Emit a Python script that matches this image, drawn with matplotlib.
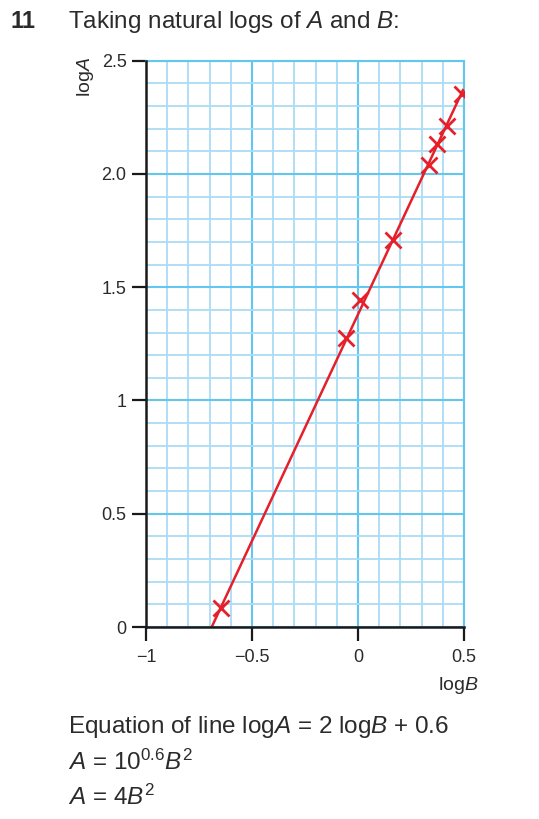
import matplotlib
matplotlib.use('Agg')
import matplotlib.pyplot as plt
from matplotlib.ticker import MultipleLocator

plt.rcParams['font.family'] = ['Liberation Sans', 'DejaVu Sans']
plt.rcParams['mathtext.fontset'] = 'custom'
plt.rcParams['mathtext.rm'] = 'Liberation Sans'
plt.rcParams['mathtext.it'] = 'Liberation Sans:italic'

# data
log_b = [-0.646, -0.057, 0.009, 0.167, 0.333, 0.374, 0.418, 0.492]
log_a = [0.085, 1.275, 1.443, 1.707, 2.038, 2.134, 2.210, 2.354]
line_x = [-0.69, 0.495]
line_y = [0.0, 2.37]
x_ticks = [-1, -0.5, 0, 0.5]
x_labels = ['\u22121', '\u22120.5', '0', '0.5']
y_ticks = [0, 0.5, 1, 1.5, 2, 2.5]
y_labels = ['0', '0.5', '1', '1.5', '2.0', '2.5']

text_col = '#2b2b2b'
red = '#e5202b'
minor_col = '#aadcf4'
major_col = '#62c6ee'

fig = plt.figure(figsize=(5.39, 8.19), dpi=100)
ax = fig.add_axes([146/539, 1 - 627/819, 318/539, 566.3/819])

ax.set_xlim(-1, 0.5)
ax.set_ylim(0, 2.5)
ax.xaxis.set_minor_locator(MultipleLocator(0.1))
ax.yaxis.set_minor_locator(MultipleLocator(0.1))
ax.grid(which='minor', color=minor_col, lw=1.3)
ax.grid(which='major', color=major_col, lw=1.5)
ax.set_axisbelow(True)

ax.set_xticks(x_ticks)
ax.set_xticklabels(x_labels)
ax.set_yticks(y_ticks)
ax.set_yticklabels(y_labels)
ax.tick_params(which='major', direction='out', length=10, width=1.6,
               color='#1a1a1a', labelsize=13, labelcolor=text_col, pad=4)
ax.tick_params(axis='x', pad=6)
ax.tick_params(which='minor', length=0)

for s in ['top', 'right']:
    ax.spines[s].set_color(major_col)
    ax.spines[s].set_linewidth(1.5)
for s in ['left', 'bottom']:
    ax.spines[s].set_color('#1a1a1a')
    ax.spines[s].set_linewidth(1.8)
    ax.spines[s].set_zorder(5)

ax.plot(line_x, line_y, color=red, lw=1.8, zorder=3)
ax.plot(log_b, log_a, 'x', color=red, ms=11, mew=2, zorder=4)

fig.text(10/539, 1 - 22/819, '11', fontsize=17, fontweight='bold', color=text_col, va='center')
fig.text(68/539, 1 - 22/819, r'Taking natural logs of $\mathit{A}$ and $\mathit{B}$:',
         fontsize=17.5, color=text_col, va='center')

fig.text(85/539, 1 - 77/819, r'log$\mathit{A}$', fontsize=14, color=text_col,
         rotation=90, ha='center', va='center')
fig.text(458/539, 1 - 685/819, r'log$\mathit{B}$', fontsize=14, color=text_col,
         ha='center', va='center')

fig.text(68/539, 1 - 727/819, r'Equation of line log$\mathit{A}$ = 2 log$\mathit{B}$ + 0.6',
         fontsize=17.5, color=text_col, va='center')
fig.text(68/539, 1 - 762/819, r'$\mathit{A}$ = 10$^{0.6}$$\mathit{B}^2$',
         fontsize=17.5, color=text_col, va='center')
fig.text(68/539, 1 - 797/819, r'$\mathit{A}$ = 4$\mathit{B}^2$',
         fontsize=17.5, color=text_col, va='center')

fig.savefig('out.png', dpi=100)
